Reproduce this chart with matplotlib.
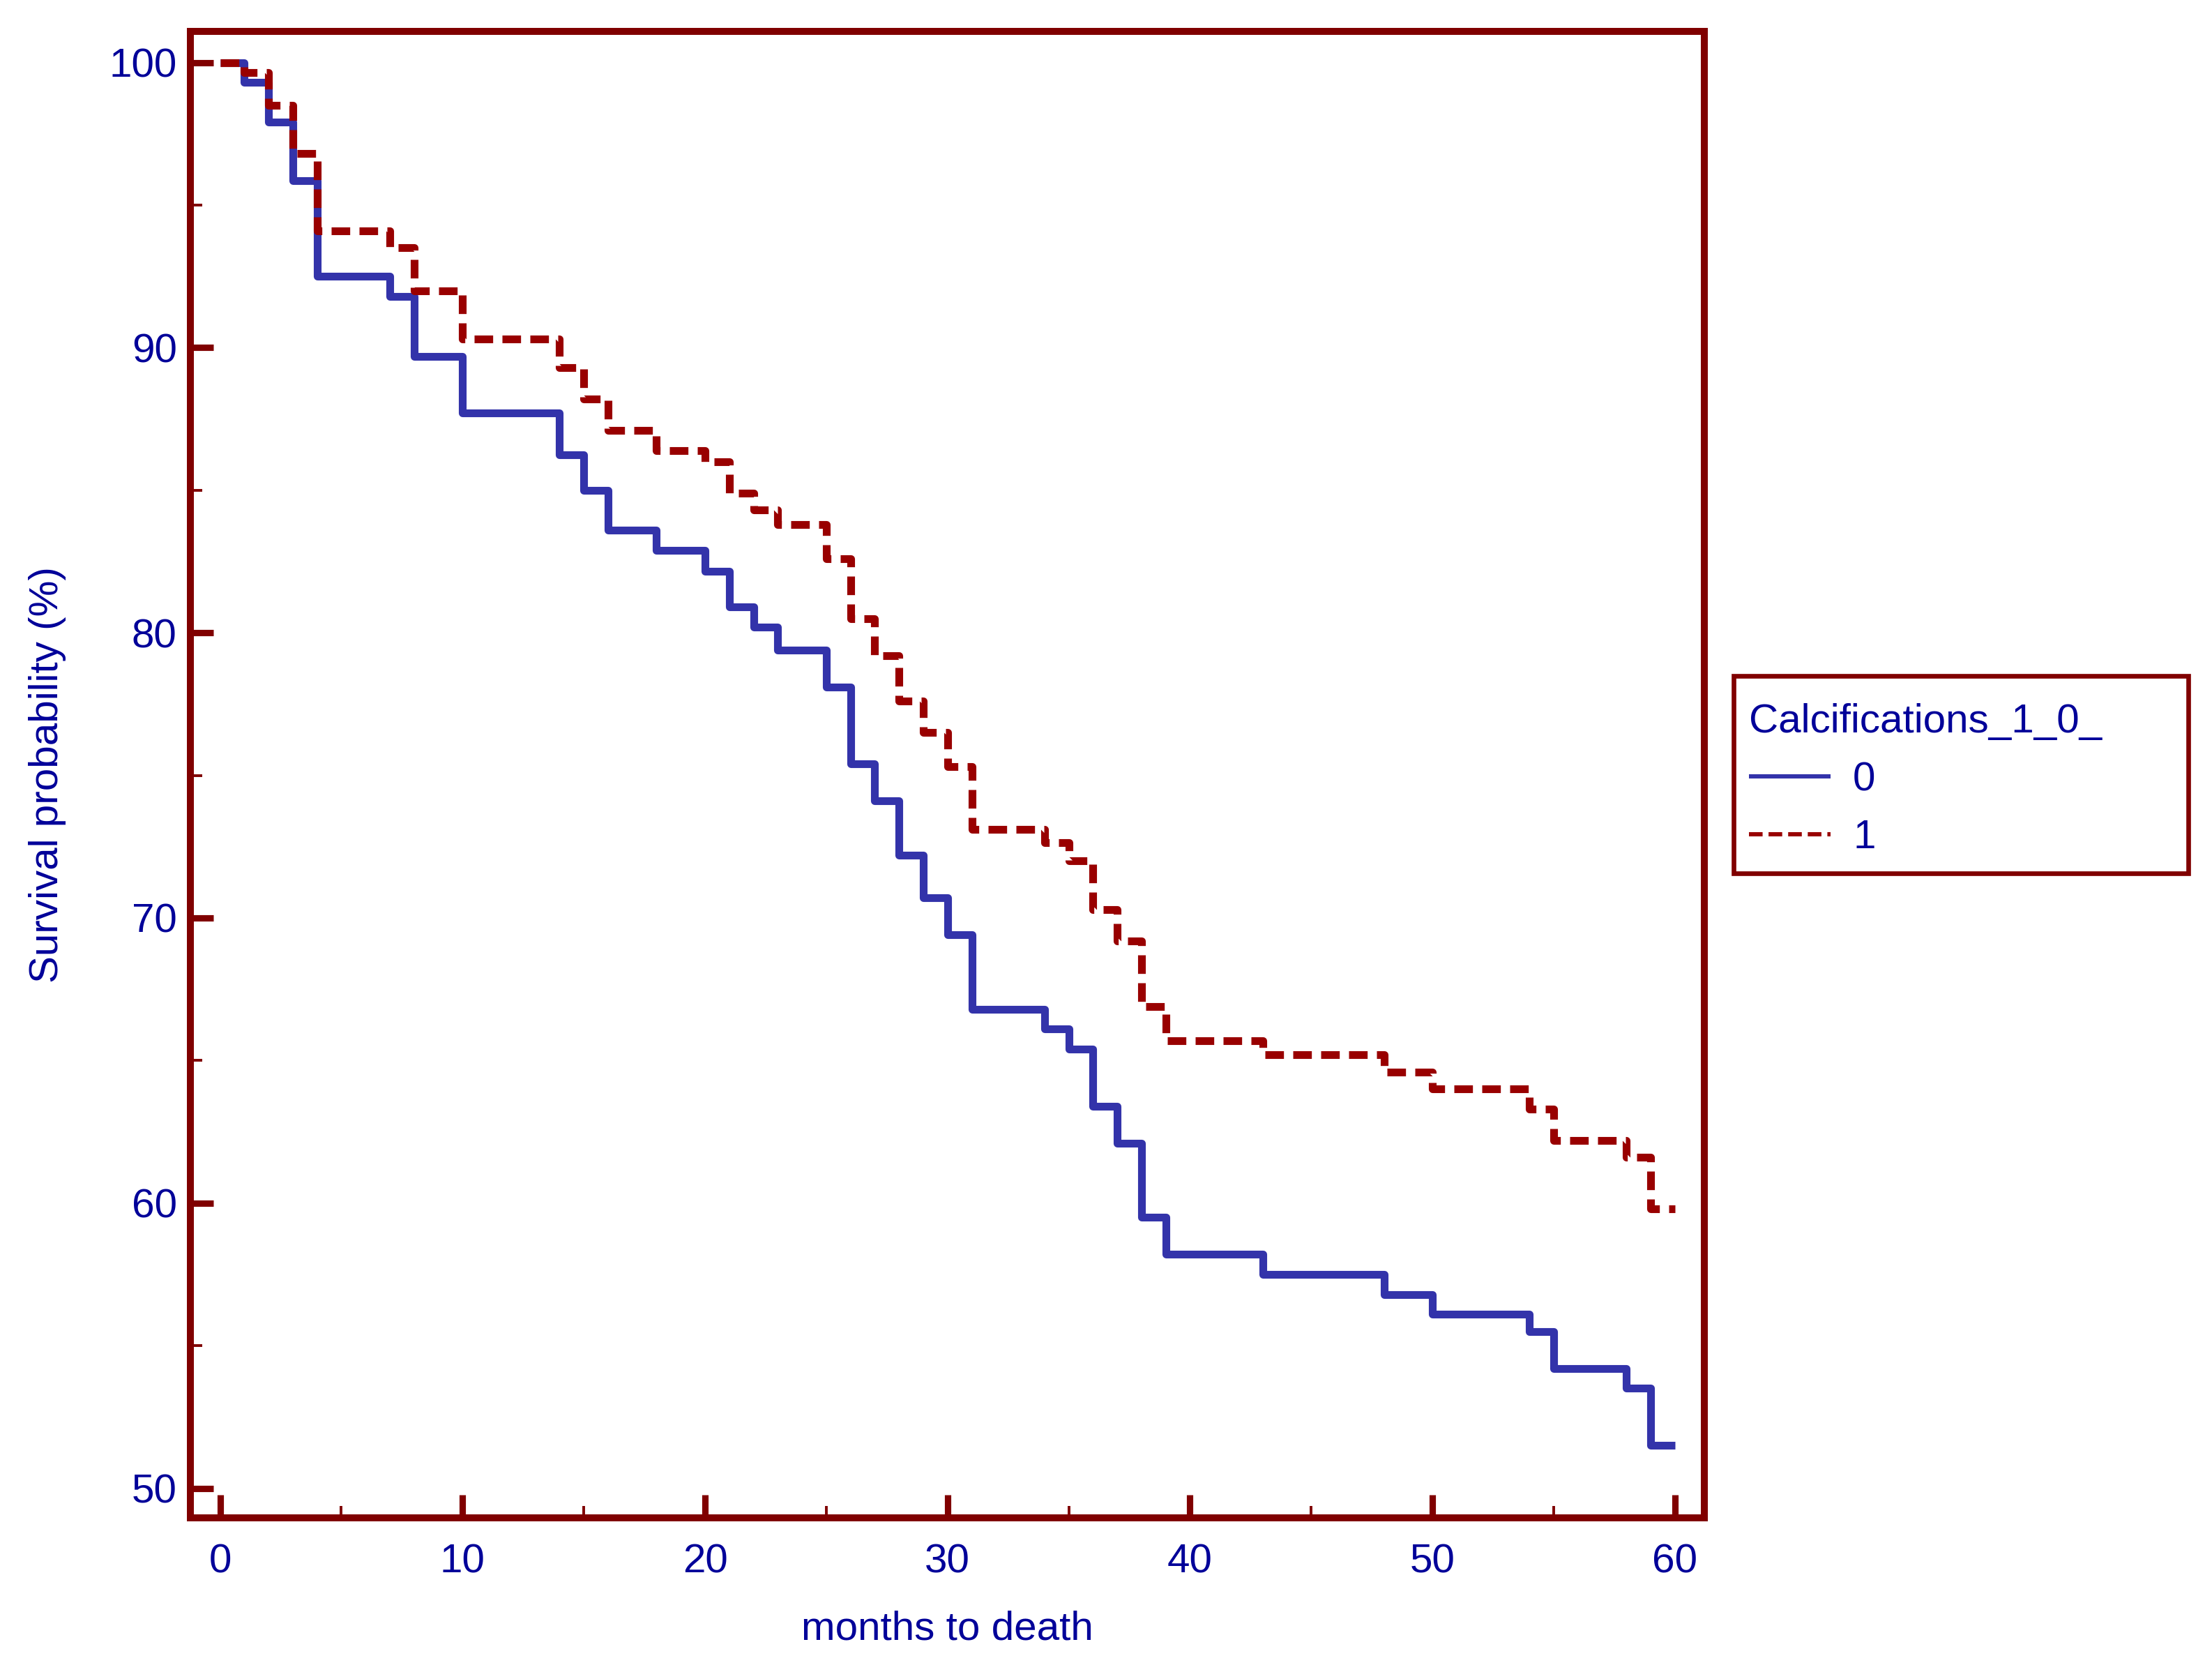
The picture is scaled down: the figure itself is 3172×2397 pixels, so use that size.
import matplotlib
matplotlib.use("Agg")
import matplotlib.pyplot as plt
from matplotlib.patches import Rectangle
from matplotlib.ticker import MultipleLocator

plt.rcParams['font.family'] = ['Liberation Sans', 'DejaVu Sans']

# event times (months) and survival (%)
times = [0, 1, 2, 3, 4, 7, 8, 10, 14, 15, 16, 18, 20, 21, 22, 23, 25, 26, 27,
         28, 29, 30, 31, 34, 35, 36, 37, 38, 39, 43, 48, 50, 54, 55, 58, 59, 60]
surv_0 = [100, 99.3, 97.9, 95.85, 92.5, 91.8, 89.7, 87.7, 86.25, 85.0, 83.6,
          82.9, 82.15, 80.9, 80.2, 79.4, 78.1, 75.4, 74.1, 72.2, 70.7, 69.4,
          66.8, 66.1, 65.4, 63.4, 62.1, 59.5, 58.2, 57.5, 56.8, 56.1, 55.5,
          54.2, 53.5, 51.5, 51.5]
surv_1 = [100, 99.65, 98.5, 96.8, 94.1, 93.5, 92.0, 90.3, 89.3, 88.2, 87.1,
          86.4, 86.0, 84.9, 84.3, 83.8, 82.6, 80.5, 79.2, 77.6, 76.5, 75.3,
          73.1, 72.65, 72.0, 70.3, 69.2, 66.9, 65.7, 65.2, 64.6, 64.0, 63.3,
          62.2, 61.6, 59.8, 59.8]
group_labels = ["0", "1"]
legend_title = "Calcifications_1_0_"

frame_col = "#800000"
text_col = "#000099"
blue = "#3333aa"
red = "#990000"
fs = 21

fig = plt.figure(figsize=(15.86, 11.985), dpi=200)
ax = fig.add_axes([0.0861, 0.0920, 0.7704 - 0.0861, 0.9814 - 0.0920])

ax.step(times, surv_0, where="post", color=blue, lw=4.0,
        solid_capstyle="butt", label=group_labels[0])
ax.step(times, surv_1, where="post", color=red, lw=4.0,
        linestyle=(0, (2.4, 1.2)), dash_capstyle="butt", label=group_labels[1])

ax.set_xlim(-1.22, 61.2)
ax.set_ylim(48.95, 101.1)

ax.xaxis.set_major_locator(MultipleLocator(10))
ax.xaxis.set_minor_locator(MultipleLocator(5))
ax.yaxis.set_major_locator(MultipleLocator(10))
ax.yaxis.set_minor_locator(MultipleLocator(5))

for s in ax.spines.values():
    s.set_color(frame_col)
    s.set_linewidth(3.6)

ax.tick_params(which="both", direction="in", color=frame_col,
               top=False, right=False)
ax.tick_params(which="major", length=12, width=3.3, labelsize=fs,
               labelcolor=text_col)
ax.tick_params(axis="x", which="major", pad=13)
ax.tick_params(axis="y", which="major", pad=7)
ax.tick_params(which="minor", length=6, width=1.4)

ax.set_xlabel("months to death", fontsize=fs, color=text_col, labelpad=15)
ax.set_ylabel("Survival probability (%)", fontsize=fs, color=text_col,
              labelpad=22)

# legend box outside the axes
fig.add_artist(Rectangle((0.7838, 0.4776), 0.9892 - 0.7838, 0.5958 - 0.4776,
                         transform=fig.transFigure, fill=False,
                         edgecolor=frame_col, linewidth=2.4))
leg = fig.legend(loc="upper left", bbox_to_anchor=(0.7908, 0.5795),
                 title=legend_title, frameon=False, fontsize=fs,
                 title_fontsize=fs, alignment="left", handlelength=2.0,
                 handletextpad=0.55, labelspacing=0.5, borderpad=0,
                 borderaxespad=0)
leg.get_title().set_color(text_col)
for t in leg.get_texts():
    t.set_color(text_col)
leg_lines = leg.get_lines()
for l in leg_lines:
    l.set_linewidth(2.2)
leg_lines[1].set_linestyle((0, (3.2, 1.4)))

fig.savefig("out.png", dpi=200)
